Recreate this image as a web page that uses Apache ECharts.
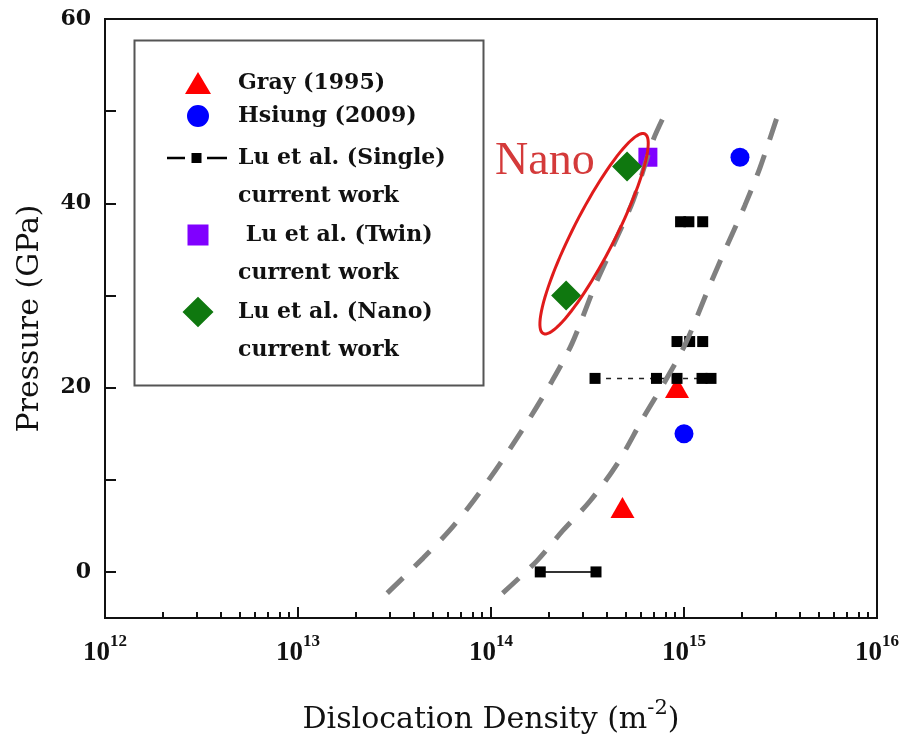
<!DOCTYPE html>
<html>
<head>
<meta charset="utf-8">
<script src="https://cdn.jsdelivr.net/npm/echarts@6/dist/echarts.min.js"></script>
<style>
  html, body { margin: 0; padding: 0; background: #fff; }
  #chart { width: 907px; height: 747px; }
</style>
</head>
<body>
<div id="chart"></div>
<script>
// dislocation density (m^-2) against pressure (GPa)
var grayDensity = [4.8e14, 9.2e14];
var grayPressure = [7, 20];
var hsiungDensity = [1.0e15, 1.95e15];
var hsiungPressure = [15, 45];

// Lu et al. single crystal, one list per pressure row
var single0Density = [1.8e14, 3.5e14];          // joined by a solid line
var single0Pressure = [0, 0];
var single21Density = [3.46e14, 7.2e14, 9.2e14, 1.24e15, 1.38e15]; // joined by a dashed line
var single21Pressure = [21, 21, 21, 21, 21];
var single25Density = [9.2e14, 1.07e15, 1.25e15];
var single25Pressure = [25, 25, 25];
var single38Density = [9.6e14, 1.06e15, 1.25e15];
var single38Pressure = [38, 38, 38];

var twinDensity = [6.5e14];
var twinPressure = [45];
var nanoDensity = [5.07e14, 2.45e14];
var nanoPressure = [44, 30];

// the two grey guide curves
var curve1Density = [2.9e13, 4.45e13, 6.1e13, 8.1e13, 1.11e14, 1.59e14, 2.07e14, 2.63e14, 3.46e14, 4.29e14, 5.45e14, 6.9e14, 7.8e14];
var curve1Pressure = [-2.3, 1.5, 4.5, 7.7, 11.7, 16.7, 20.7, 24.8, 31.1, 35.4, 40.3, 46.8, 49.3];
var curve2Density = [1.15e14, 1.73e14, 2.36e14, 3.26e14, 4.5e14, 6.14e14, 7.98e14, 1.02e15, 1.36e15, 1.67e15, 2.07e15, 2.48e15, 3.03e15];
var curve2Pressure = [-2.3, 1.2, 4.5, 7.7, 11.7, 16.7, 20.7, 24.8, 31.1, 35.4, 39.8, 43.9, 49.3];

// red ring round the nano points
var nanoRing = [3.42e14, 36.7];

var xMajorTicks = [1e12, 1e13, 1e14, 1e15, 1e16];
var xMinorTicks = [];
for (var d = 12; d < 16; d++) {
    for (var m = 2; m <= 9; m++) xMinorTicks.push(m * Math.pow(10, d));
}
var yTicks = [0, 10, 20, 30, 40, 50, 60];
var yLabels = [0, 20, 40, 60];

function pairs(xs, ys) {
    return xs.map(function (x, i) { return [x, ys[i]]; });
}

// legend icons, padded with empty points so every shape keeps its real size
var iconTri = 'path://M0,0Z M66,22Z M18,22 L31,0 L44,22 Z';
var iconDot = 'path://M0,0Z M66,22Z M20,11 A11,11 0 1,1 42,11 A11,11 0 1,1 20,11 Z';
var iconSingle = 'path://M0,0Z M66,77Z M0,18 h18 v2.5 h-18 Z M24.5,14.25 h10 v10 h-10 Z M40,18 h20 v2.5 h-20 Z';
var iconTwin = 'path://M0,0Z M66,77Z M20.5,8.75 h21 v21 h-21 Z';
var iconNano = 'path://M0,0Z M66,77Z M31,4 L46.5,19.25 L31,34.5 L15.5,19.25 Z';

var legendFont = { fontFamily: 'DejaVu Serif', fontWeight: 'bold', fontSize: 22, color: '#111' };

var myChart = echarts.init(document.getElementById('chart'));

myChart.setOption({
    backgroundColor: '#fff',
    animation: false,
    grid: {
        left: 105, right: 30, top: 19, bottom: 129,
        show: true, borderColor: '#111', borderWidth: 2,
        outerBoundsMode: 'none'
    },
    legend: [{
        data: [{ name: 'Gray (1995)', icon: iconTri }, { name: 'Hsiung (2009)', icon: iconDot }],
        orient: 'vertical', left: 167, top: 66.5, padding: 0, itemGap: 0,
        itemWidth: 66, itemHeight: 22, selectedMode: false,
        itemStyle: { borderWidth: 0 },
        textStyle: Object.assign({ lineHeight: 33 }, legendFont)
    }, {
        data: [
            { name: 'Lu et al. (Single)', icon: iconSingle },
            { name: 'Lu et al. (Twin)', icon: iconTwin },
            { name: 'Lu et al. (Nano)', icon: iconNano }
        ],
        orient: 'vertical', left: 167, top: 138.75, padding: 0, itemGap: 0,
        itemWidth: 66, itemHeight: 77, selectedMode: false,
        itemStyle: { borderWidth: 0 },
        formatter: function (name) {
            return (name === 'Lu et al. (Twin)' ? ' ' : '') + name + '\ncurrent work';
        },
        textStyle: Object.assign({ lineHeight: 38.5 }, legendFont)
    }],
    graphic: [{
        // frame of the legend
        type: 'rect', left: 132, top: 38,
        shape: { width: 349, height: 345 },
        style: { fill: 'none', stroke: '#555', lineWidth: 2 }
    }],
    xAxis: [{
        type: 'log', logBase: 10, min: 1e12, max: 1e16,
        position: 'bottom',
        name: 'Dislocation Density (m{sup|-2})',
        nameLocation: 'middle', nameGap: 80,
        nameTextStyle: {
            fontFamily: 'DejaVu Serif', fontSize: 30, color: '#111', lineHeight: 44,
            rich: { sup: { fontFamily: 'DejaVu Serif', fontSize: 21, color: '#111', verticalAlign: 'top', lineHeight: 22 } }
        },
        axisLine: { onZero: false, lineStyle: { color: '#111', width: 2 } },
        axisTick: { inside: true, length: 11, customValues: xMajorTicks, lineStyle: { color: '#111', width: 2 } },
        axisLabel: {
            customValues: xMajorTicks, margin: 15,
            formatter: function (v) { return '{b|10}{s|' + Math.round(Math.log10(v)) + '}'; },
            rich: {
                b: { fontFamily: 'Liberation Serif', fontWeight: 'bold', fontSize: 27, color: '#111', lineHeight: 40 },
                s: { fontFamily: 'Liberation Serif', fontWeight: 'bold', fontSize: 17, color: '#111', lineHeight: 17, verticalAlign: 'top' }
            }
        },
        splitLine: { show: false }
    }, {
        // minor decade ticks
        type: 'log', logBase: 10, min: 1e12, max: 1e16,
        position: 'bottom',
        axisLine: { show: false, onZero: false },
        axisTick: { inside: true, length: 6, customValues: xMinorTicks, lineStyle: { color: '#111', width: 2 } },
        axisLabel: { show: false },
        splitLine: { show: false }
    }],
    yAxis: {
        type: 'value', min: -5, max: 60,
        name: 'Pressure (GPa)',
        nameLocation: 'middle', nameRotate: 90, nameGap: 60,
        nameTextStyle: { fontFamily: 'DejaVu Serif', fontSize: 30, color: '#111' },
        axisLine: { onZero: false, lineStyle: { color: '#111', width: 2 } },
        axisTick: { inside: true, length: 11, customValues: yTicks, lineStyle: { color: '#111', width: 2 } },
        axisLabel: {
            customValues: yLabels, margin: 14,
            fontFamily: 'DejaVu Serif', fontWeight: 'bold', fontSize: 22, color: '#111'
        },
        splitLine: { show: false }
    },
    series: [{
        name: 'Gray (1995)', type: 'scatter',
        symbol: 'triangle', symbolSize: [24, 21],
        itemStyle: { color: '#ff0000', opacity: 1 },
        data: pairs(grayDensity, grayPressure)
    }, {
        name: 'Hsiung (2009)', type: 'scatter',
        symbol: 'circle', symbolSize: 19,
        itemStyle: { color: '#0000ff', opacity: 1 },
        data: pairs(hsiungDensity, hsiungPressure)
    }, {
        name: 'Lu et al. (Single)', type: 'line',
        symbol: 'rect', symbolSize: 11, z: 3,
        itemStyle: { color: '#000', opacity: 1 },
        lineStyle: { color: '#333', width: 2 },
        data: pairs(single0Density, single0Pressure)
    }, {
        name: 'Lu et al. (Single)', type: 'line',
        symbol: 'rect', symbolSize: 11, z: 3,
        itemStyle: { color: '#000', opacity: 1 },
        lineStyle: { color: '#222', width: 1.5, type: [5, 6] },
        data: pairs(single21Density, single21Pressure)
    }, {
        name: 'Lu et al. (Single)', type: 'scatter',
        symbol: 'rect', symbolSize: 11, z: 3,
        itemStyle: { color: '#000', opacity: 1 },
        data: pairs(single25Density, single25Pressure).concat(pairs(single38Density, single38Pressure))
    }, {
        name: 'Lu et al. (Twin)', type: 'scatter',
        symbol: 'rect', symbolSize: 19,
        itemStyle: { color: '#8000ff', opacity: 1 },
        data: pairs(twinDensity, twinPressure)
    }, {
        name: 'Lu et al. (Nano)', type: 'scatter',
        symbol: 'diamond', symbolSize: 30,
        itemStyle: { color: '#0f780f', opacity: 1 },
        data: pairs(nanoDensity, nanoPressure)
    }, {
        type: 'line', smooth: 0.3, showSymbol: false, silent: true, z: 5,
        lineStyle: { color: '#808080', width: 5, type: [22, 16] },
        data: pairs(curve1Density, curve1Pressure)
    }, {
        type: 'line', smooth: 0.3, showSymbol: false, silent: true, z: 5,
        lineStyle: { color: '#808080', width: 5, type: [22, 16] },
        data: pairs(curve2Density, curve2Pressure)
    }, {
        type: 'custom', silent: true, z: 6,
        data: [nanoRing],
        renderItem: function (params, api) {
            var c = api.coord([api.value(0), api.value(1)]);
            var a = 112, b = 21, rot = -63 * Math.PI / 180;
            var pts = [];
            for (var k = 0; k < 96; k++) {
                var t = k / 96 * Math.PI * 2;
                var ex = a * Math.cos(t), ey = b * Math.sin(t);
                pts.push([
                    c[0] + ex * Math.cos(rot) - ey * Math.sin(rot),
                    c[1] + ex * Math.sin(rot) + ey * Math.cos(rot)
                ]);
            }
            return {
                type: 'group',
                children: [{
                    type: 'polygon', shape: { points: pts },
                    style: { fill: 'none', stroke: '#e01b1b', lineWidth: 3 }
                }, {
                    type: 'text',
                    style: {
                        text: 'Nano', x: c[0] - 99, y: c[1] - 72,
                        fill: '#d43a3a', fontFamily: 'Liberation Serif', fontSize: 46,
                        align: 'left', verticalAlign: 'middle'
                    }
                }]
            };
        }
    }]
});
</script>
</body>
</html>
